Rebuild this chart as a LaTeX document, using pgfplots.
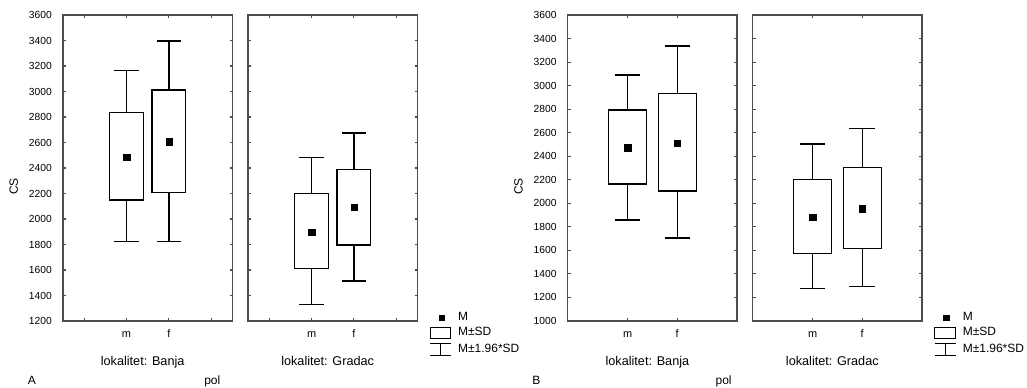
\documentclass[border=0pt]{standalone}
\usepackage{fontspec}
\setmainfont{Liberation Sans}
\usepackage{pgfplots}
\pgfplotsset{compat=1.18}
\definecolor{axgray}{gray}{0.3}
\pgfplotsset{
  panel/.style={
    scale only axis, width=127.1pt, height=229.5pt, anchor=north west,
    axis line style={axgray, line width=1.1pt},
    tick style={axgray, line width=0.8pt},
    tick align=inside, major tick length=2.2pt, tick pos=both,
    ymax=3600, ytick distance=200,
    /pgf/number format/assume math mode=true, /pgf/number format/1000 sep={},
    yticklabel style={font=\fontsize{7.7}{9}\selectfont, inner sep=0pt, xshift=-8.25pt},
    xticklabel style={font=\fontsize{8.2}{9}\selectfont, anchor=base, inner sep=0pt, yshift=-12.2pt},
    xlabel style={font=\fontsize{9.5}{11}\selectfont, at={(axis description cs:0.47,-0.147)}, anchor=base},
    ylabel style={font=\fontsize{9}{10}\selectfont, at={(axis description cs:-0.29,0.44)}, anchor=center},
    clip=false, unbounded coords=jump,
    legend style={draw=none, fill=none, inner sep=0pt, anchor=north west, at={(1.07,0.031)},
      font=\fontsize{9}{10}\selectfont, row sep=2.75pt, column sep=5pt,
      nodes={inner sep=0pt, text height=6.5pt, text depth=2pt}},
    legend cell align=left,
  },
  pA/.style={panel, ymin=1200, xmin=-0.5, xmax=3.5, xtick={0,1,2,3}, xticklabels={,m,f,}},
  pB/.style={panel, ymin=1000, xmin=-0.21, xmax=3.21, xtick={1,2}, xticklabels={m,f}},
  nolab/.style={yticklabels={}, yticklabel style={opacity=0}},
  bx/.style={black, line width=0.9pt, solid, mark=none, line join=miter, line cap=rect},
  mn/.style={only marks, mark=square*, mark size=2.4pt, black, mark options={fill=black, line width=0.3pt}},
}
\begin{document}
\begin{tikzpicture}
\path[use as bounding box] (0pt,0pt) rectangle (770.25pt,-291pt);
% ---------------- Panel A, Banja
\begin{axis}[pA, at={(47.25pt,-11.25pt)}, xlabel={lokalitet: Banja}, ylabel={CS}]
% m
\addplot[bx] coordinates {(1,2834) (1,3163) (nan,nan) (0.725,3163) (1.275,3163) (nan,nan) (1,2149) (1,1825) (nan,nan) (0.725,1825) (1.275,1825)};
\addplot[bx] coordinates {(0.6,2149) (1.4,2149) (1.4,2834) (0.6,2834) (0.6,2149)};
\addplot[mn] coordinates {(1,2486)};
% f
\addplot[bx] coordinates {(2,3012) (2,3396) (nan,nan) (1.725,3396) (2.275,3396) (nan,nan) (2,2209) (2,1825) (nan,nan) (1.725,1825) (2.275,1825)};
\addplot[bx] coordinates {(1.6,2209) (2.4,2209) (2.4,3012) (1.6,3012) (1.6,2209)};
\addplot[mn] coordinates {(2,2606)};
\node[font=\fontsize{9}{10}\selectfont, anchor=base] at (axis description cs:-0.183,-0.207) {A};
\node[font=\fontsize{9}{10}\selectfont, anchor=base] at (axis description cs:0.881,-0.207) {pol};
\end{axis}
% ---------------- Panel A, Gradac
\begin{axis}[pA, nolab, at={(186pt,-11.25pt)}, xlabel={lokalitet: Gradac}]
\addlegendimage{only marks, mark=square*, mark size=1.9pt, black}
\addlegendentry{M}
\addlegendimage{legend image code/.code={\draw[black, line width=0.9pt] (0pt,-4.2pt) rectangle (15.5pt,4.2pt);}}
\addlegendentry{M±SD}
\addlegendimage{legend image code/.code={\draw[black, line width=0.9pt] (0pt,4.5pt) -- (15.5pt,4.5pt) (7.75pt,4.5pt) -- (7.75pt,-4.5pt) (0pt,-4.5pt) -- (15.5pt,-4.5pt);}}
\addlegendentry{M±1.96*SD}
% m
\addplot[bx, forget plot] coordinates {(1,2201) (1,2484) (nan,nan) (0.725,2484) (1.275,2484) (nan,nan) (1,1613) (1,1331) (nan,nan) (0.725,1331) (1.275,1331)};
\addplot[bx, forget plot] coordinates {(0.6,1613) (1.4,1613) (1.4,2201) (0.6,2201) (0.6,1613)};
\addplot[mn, forget plot] coordinates {(1,1895)};
% f
\addplot[bx, forget plot] coordinates {(2,2390) (2,2675) (nan,nan) (1.725,2675) (2.275,2675) (nan,nan) (2,1796) (2,1514) (nan,nan) (1.725,1514) (2.275,1514)};
\addplot[bx, forget plot] coordinates {(1.6,1796) (2.4,1796) (2.4,2390) (1.6,2390) (1.6,1796)};
\addplot[mn, forget plot] coordinates {(2,2092)};
\end{axis}
% ---------------- Panel B, Banja
\begin{axis}[pB, at={(425.8pt,-11.25pt)}, xlabel={lokalitet: Banja}, ylabel={CS}]
% m
\addplot[bx] coordinates {(1,2793) (1,3090) (nan,nan) (0.755,3090) (1.245,3090) (nan,nan) (1,2164) (1,1858) (nan,nan) (0.755,1858) (1.245,1858)};
\addplot[bx] coordinates {(0.615,2164) (1.385,2164) (1.385,2793) (0.615,2793) (0.615,2164)};
\addplot[mn] coordinates {(1,2473)};
% f
\addplot[bx] coordinates {(2,2934) (2,3337) (nan,nan) (1.755,3337) (2.245,3337) (nan,nan) (2,2104) (2,1705) (nan,nan) (1.755,1705) (2.245,1705)};
\addplot[bx] coordinates {(1.615,2104) (2.385,2104) (2.385,2934) (1.615,2934) (1.615,2104)};
\addplot[mn] coordinates {(2,2509)};
\node[font=\fontsize{9}{10}\selectfont, anchor=base] at (axis description cs:-0.185,-0.207) {B};
\node[font=\fontsize{9}{10}\selectfont, anchor=base] at (axis description cs:0.92,-0.207) {pol};
\end{axis}
% ---------------- Panel B, Gradac
\begin{axis}[pB, nolab, at={(564.5pt,-11.25pt)}, xlabel={lokalitet: Gradac}]
\addlegendimage{only marks, mark=square*, mark size=1.9pt, black}
\addlegendentry{M}
\addlegendimage{legend image code/.code={\draw[black, line width=0.9pt] (0pt,-4.2pt) rectangle (15.5pt,4.2pt);}}
\addlegendentry{M±SD}
\addlegendimage{legend image code/.code={\draw[black, line width=0.9pt] (0pt,4.5pt) -- (15.5pt,4.5pt) (7.75pt,4.5pt) -- (7.75pt,-4.5pt) (0pt,-4.5pt) -- (15.5pt,-4.5pt);}}
\addlegendentry{M±1.96*SD}
% m
\addplot[bx, forget plot] coordinates {(1,2204) (1,2504) (nan,nan) (0.755,2504) (1.245,2504) (nan,nan) (1,1575) (1,1278) (nan,nan) (0.755,1278) (1.245,1278)};
\addplot[bx, forget plot] coordinates {(0.615,1575) (1.385,1575) (1.385,2204) (0.615,2204) (0.615,1575)};
\addplot[mn, forget plot] coordinates {(1,1884)};
% f
\addplot[bx, forget plot] coordinates {(2,2303) (2,2634) (nan,nan) (1.755,2634) (2.245,2634) (nan,nan) (2,1618) (2,1292) (nan,nan) (1.755,1292) (2.245,1292)};
\addplot[bx, forget plot] coordinates {(1.615,1618) (2.385,1618) (2.385,2303) (1.615,2303) (1.615,1618)};
\addplot[mn, forget plot] coordinates {(2,1954)};
\end{axis}
\end{tikzpicture}
\end{document}
